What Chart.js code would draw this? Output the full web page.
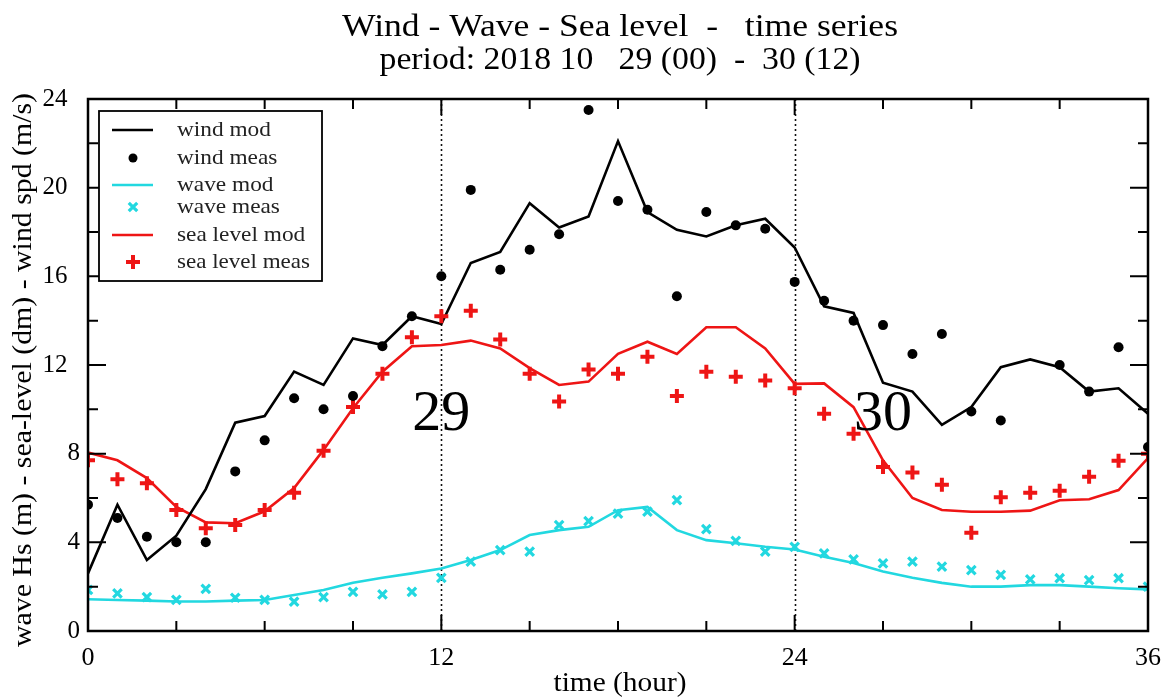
<!DOCTYPE html>
<html>
<head>
<meta charset="utf-8">
<script src="https://cdn.jsdelivr.net/npm/chart.js@4.4.1/dist/chart.umd.min.js"></script>
<style>
html,body{margin:0;padding:0;background:#fff;}
#wrap{width:1173px;height:699px;position:relative;}
</style>
</head>
<body>
<div id="wrap"><canvas id="c" width="1173" height="699"></canvas></div>
<script>
// ---- data ----
const hours = [0,1,2,3,4,5,6,7,8,9,10,11,12,13,14,15,16,17,18,19,20,21,22,23,24,25,26,27,28,29,30,31,32,33,34,35,36];
const windMod  = [2.6,5.7,3.2,4.3,6.4,9.4,9.7,11.7,11.1,13.2,12.9,14.2,13.85,16.6,17.1,19.3,18.2,18.7,22.1,18.9,18.1,17.8,18.3,18.6,17.3,14.65,14.35,11.2,10.8,9.3,10.1,11.9,12.25,11.9,10.8,10.95,9.8];
const windMeas = [5.7,5.1,4.25,4.0,4.0,7.2,8.6,10.5,10.0,10.6,12.85,14.2,16.0,19.9,16.3,17.2,17.9,23.5,19.4,19.0,15.1,18.9,18.3,18.15,15.75,14.9,14.0,13.8,12.5,13.4,9.9,9.5,null,12.0,10.8,12.8,8.3];
const waveMod  = [1.43,1.4,1.37,1.33,1.33,1.37,1.4,1.62,1.85,2.18,2.4,2.6,2.82,3.2,3.65,4.33,4.55,4.7,5.45,5.6,4.55,4.1,3.96,3.8,3.68,3.35,3.07,2.68,2.4,2.17,2.0,2.0,2.07,2.07,2.0,1.93,1.88];
const waveMeas = [1.85,1.7,1.53,1.4,1.9,1.5,1.4,1.32,1.53,1.77,1.65,1.77,2.4,3.13,3.65,3.58,4.78,4.96,5.3,5.38,5.9,4.6,4.07,3.58,3.8,3.5,3.23,3.05,3.13,2.9,2.75,2.53,2.33,2.38,2.3,2.38,2.0];
const seaMod   = [8.05,7.7,6.9,5.6,4.9,4.86,5.4,6.45,8.17,10.05,11.7,12.85,12.9,13.1,12.75,11.86,11.1,11.25,12.5,13.05,12.5,13.7,13.7,12.75,11.15,11.17,10.1,7.7,6.0,5.46,5.38,5.38,5.43,5.9,5.94,6.36,7.8];
const seaMeas  = [7.7,6.85,6.66,5.46,4.63,4.78,5.46,6.24,8.13,10.1,11.6,13.25,14.2,14.45,13.15,11.6,10.35,11.8,11.6,12.37,10.6,11.7,11.47,11.3,10.95,9.8,8.9,7.4,7.15,6.6,4.43,6.03,6.24,6.33,6.96,7.68,8.0];
const xTicks = [0,12,24,36];
const yTicks = [0,4,8,12,16,20,24];
const dayMarks = [12,24];
const dayLabels = [{x:12, y:9.05, text:'29'},{x:27, y:9.05, text:'30'}];
const titleLines = ['Wind - Wave - Sea level  -   time series','period: 2018 10   29 (00)  -  30 (12)'];
const xTitle = 'time (hour)';
const yTitle = 'wave Hs (m) - sea-level (dm) - wind spd (m/s)';
const legendNames = ['wind mod','wind meas','wave mod','wave meas','sea level mod','sea level meas'];

const BLACK = '#000000', CYAN = '#22d8e0', RED = '#ee1515';
const SERIF = '"Liberation Serif","DejaVu Serif",serif';
const pts = arr => hours.map((h,i)=>({x:h, y:arr[i]}));

function fitText(ctx, text, x, y, px, width, rot){
  ctx.save();
  ctx.font = px + 'px ' + SERIF;
  const w = ctx.measureText(text).width;
  ctx.translate(x, y);
  if (rot) ctx.rotate(rot);
  ctx.scale(width / w, 1);
  ctx.fillText(text, 0, 0);
  ctx.restore();
}

const decor = {
  id: 'decor',
  beforeDatasetsDraw(chart){
    const {ctx, chartArea:a, scales:{x}} = chart;
    ctx.save();
    ctx.strokeStyle = '#111';
    ctx.lineWidth = 1.6;
    ctx.setLineDash([2,3]);
    dayMarks.forEach(v=>{
      const px = Math.round(x.getPixelForValue(v)) + 0.5;
      ctx.beginPath(); ctx.moveTo(px, a.top); ctx.lineTo(px, a.bottom); ctx.stroke();
    });
    ctx.restore();
  },
  afterDraw(chart){
    const {ctx, chartArea:a, scales:{x, y}} = chart;
    ctx.save();
    ctx.fillStyle = '#000';
    // titles
    ctx.textAlign = 'center'; ctx.textBaseline = 'alphabetic';
    fitText(ctx, titleLines[0], 620, 36, 31, 556);
    fitText(ctx, titleLines[1], 620, 69, 31, 481);
    fitText(ctx, xTitle, 620, 691, 28, 133);
    ctx.textBaseline = 'middle';
    fitText(ctx, yTitle, 24, 370, 27, 554, -Math.PI/2);
    // day labels
    ctx.textBaseline = 'alphabetic';
    ctx.font = '58px ' + SERIF;
    dayLabels.forEach(d=>{
      ctx.fillText(d.text, x.getPixelForValue(d.x), y.getPixelForValue(d.y));
    });
    // frame + inward ticks
    ctx.strokeStyle = '#000';
    ctx.lineWidth = 2.5;
    ctx.strokeRect(a.left, a.top, a.right - a.left, a.bottom - a.top);
    ctx.lineWidth = 2;
    ctx.beginPath();
    for (let v = 0; v <= 36; v += 3){
      const px = x.getPixelForValue(v);
      const len = (v % 12 === 0) ? 16 : 10;
      ctx.moveTo(px, a.bottom); ctx.lineTo(px, a.bottom - len);
      ctx.moveTo(px, a.top); ctx.lineTo(px, a.top + len);
    }
    for (let v = 0; v <= 24; v += 2){
      const py = y.getPixelForValue(v);
      const len = (v % 4 === 0) ? 18 : 10;
      ctx.moveTo(a.left, py); ctx.lineTo(a.left + len, py);
      ctx.moveTo(a.right, py); ctx.lineTo(a.right - len, py);
    }
    ctx.stroke();
    // legend
    const bx = 99, by = 111, bw = 223, bh = 170;
    ctx.fillStyle = '#fff';
    ctx.fillRect(bx, by, bw, bh);
    ctx.lineWidth = 1.8;
    ctx.strokeStyle = '#000';
    ctx.strokeRect(bx, by, bw, bh);
    const rows = [130,158,185,207,235,262];
    const ds = chart.data.datasets;
    ctx.textAlign = 'left'; ctx.textBaseline = 'middle';
    rows.forEach((ry, i)=>{
      const d = ds[i];
      ctx.save();
      if (d.showLine !== false){
        ctx.strokeStyle = d.borderColor; ctx.lineWidth = 2.5;
        ctx.beginPath(); ctx.moveTo(112, ry); ctx.lineTo(153, ry); ctx.stroke();
      } else {
        ctx.fillStyle = d.backgroundColor; ctx.strokeStyle = d.borderColor;
        ctx.lineWidth = d.borderWidth || 1;
        Chart.helpers.drawPoint(ctx, {pointStyle: d.pointStyle, radius: d.legendRadius, borderWidth: d.borderWidth, rotation: 0}, 133, ry);
      }
      ctx.restore();
      ctx.fillStyle = '#222';
      fitText(ctx, legendNames[i], 177, ry, 22, legendNames[i] === 'sea level meas' ? 133 : ctx.measureText ? null : null);
    });
    ctx.restore();
  }
};

// override fitText for null width (natural width)
const _fit = fitText;
fitText = function(ctx, text, x, y, px, width, rot){
  if (width == null){
    ctx.save(); ctx.font = px + 'px ' + SERIF;
    const w = ctx.measureText(text).width * 1.06;
    ctx.restore();
    return _fit(ctx, text, x, y, px, w, rot);
  }
  return _fit(ctx, text, x, y, px, width, rot);
};

new Chart(document.getElementById('c'), {
  type: 'line',
  data: {
    datasets: [
      {label: legendNames[0], data: pts(windMod), borderColor: BLACK, backgroundColor: BLACK, borderWidth: 2.6, pointRadius: 0, tension: 0, order: 3},
      {label: legendNames[1], data: pts(windMeas), showLine: false, pointStyle: 'circle', pointRadius: 5, legendRadius: 4.5, borderWidth: 0, borderColor: BLACK, backgroundColor: BLACK, order: 2},
      {label: legendNames[2], data: pts(waveMod), borderColor: CYAN, backgroundColor: CYAN, borderWidth: 2.6, pointRadius: 0, tension: 0, order: 3},
      {label: legendNames[3], data: pts(waveMeas), showLine: false, pointStyle: 'crossRot', pointRadius: 6, legendRadius: 6, borderWidth: 3.2, borderColor: CYAN, backgroundColor: CYAN, order: 2},
      {label: legendNames[4], data: pts(seaMod), borderColor: RED, backgroundColor: RED, borderWidth: 2.6, pointRadius: 0, tension: 0, order: 3},
      {label: legendNames[5], data: pts(seaMeas), showLine: false, pointStyle: 'cross', pointRadius: 7, legendRadius: 7, borderWidth: 4, borderColor: RED, backgroundColor: RED, order: 2}
    ]
  },
  options: {
    responsive: false,
    animation: false,
    events: [],
    layout: {padding: {top: 99, right: 24, left: 0, bottom: 0}},
    plugins: {legend: {display: false}, title: {display: false}, tooltip: {enabled: false}},
    scales: {
      x: {
        type: 'linear', min: 0, max: 36,
        afterBuildTicks: s => { s.ticks = xTicks.map(v=>({value:v})); },
        afterFit: s => { s.height = 68; },
        grid: {display: false, drawTicks: false},
        border: {display: false},
        ticks: {color: '#000', padding: 12, font: {family: SERIF, size: 26}, maxRotation: 0}
      },
      y: {
        type: 'linear', min: 0, max: 24,
        afterBuildTicks: s => { s.ticks = yTicks.map(v=>({value:v})); },
        afterFit: s => { s.width = 88; },
        grid: {display: false, drawTicks: false},
        border: {display: false},
        ticks: {color: '#000', padding: 8, font: {family: SERIF, size: 25},
          callback: v => (v >= 10 ? v + '\u2002' : '' + v)}
      }
    }
  },
  plugins: [decor]
});
</script>
</body>
</html>
